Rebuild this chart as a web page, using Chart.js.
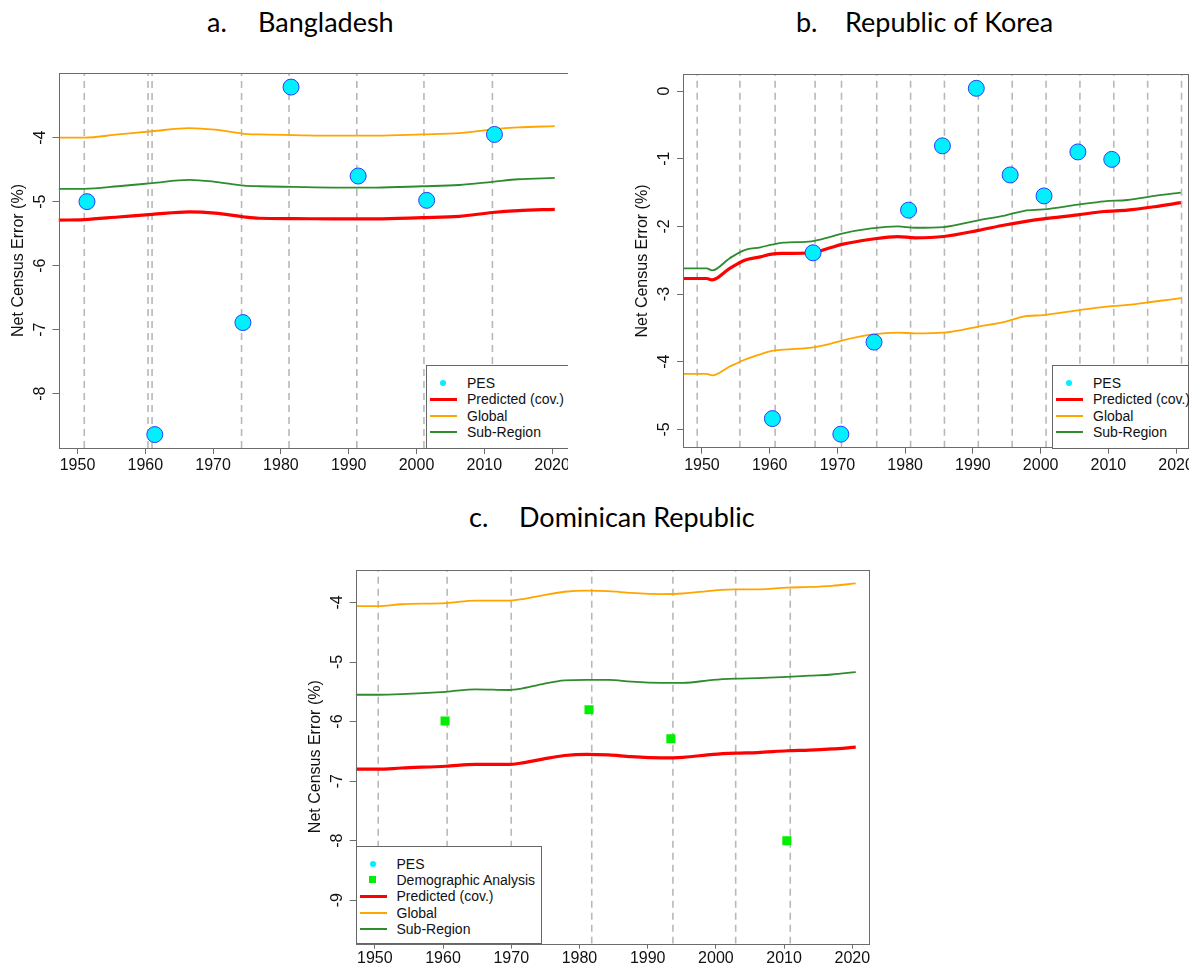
<!DOCTYPE html>
<html><head><meta charset="utf-8">
<script src="https://cdn.jsdelivr.net/npm/chart.js@4/dist/chart.umd.min.js"></script>
<style>
body{margin:0;width:1199px;height:967px;background:#fff;position:relative;overflow:hidden;font-family:"Liberation Sans",Arial,sans-serif}
.crop{position:absolute;overflow:hidden}
.crop canvas{position:absolute;left:0;top:0}
.title{position:absolute;font-family:Lato,"Open Sans",sans-serif;font-size:27px;color:#000;white-space:nowrap;line-height:27px}
.legend{position:absolute;border:1px solid #666;background:#fff;box-sizing:border-box;font-size:14px;color:#111}
.item{position:absolute;left:0;height:16px;width:100%}
.item span{position:absolute;top:0;line-height:16px;white-space:nowrap}
.sym{position:absolute}
</style></head><body>

<div class="title" style="left:207px;top:8px">a.</div><div class="title" style="left:258px;top:8px">Bangladesh</div>
<div class="title" style="left:796px;top:8px">b.</div><div class="title" style="left:845px;top:8px">Republic of Korea</div>
<div class="title" style="left:469px;top:503px">c.</div><div class="title" style="left:519px;top:503px">Dominican Republic</div>

<div class="crop" id="cropA" style="left:0;top:40px;width:568px;height:440px"><canvas id="cA" width="580" height="440"></canvas></div>
<div class="crop" id="cropB" style="left:600px;top:40px;width:589px;height:440px"><canvas id="cB" width="599" height="440"></canvas></div>
<div class="crop" id="cropC" style="left:290px;top:540px;width:590px;height:427px"><canvas id="cC" width="590" height="427"></canvas></div>

<script>
// ---------- shared ----------
const xTicks = [1950, 1960, 1970, 1980, 1990, 2000, 2010, 2020];

// ---------- a. Bangladesh ----------
const bdLineYears = [1947.2, 1951, 1956, 1961, 1966.5, 1970.3, 1974.6, 1976.8, 1982, 1987.7, 1994, 2000.8, 2006.3, 2011.2, 2015, 2020.4];
const bdPredicted = [-5.29, -5.28, -5.24, -5.20, -5.16, -5.18, -5.24, -5.26, -5.265, -5.27, -5.27, -5.25, -5.23, -5.17, -5.14, -5.12];
const bdGlobal    = [-4.00, -4.00, -3.95, -3.90, -3.85, -3.875, -3.94, -3.95, -3.96, -3.97, -3.97, -3.95, -3.93, -3.87, -3.84, -3.82];
const bdSubRegion = [-4.80, -4.80, -4.76, -4.71, -4.66, -4.69, -4.75, -4.76, -4.77, -4.78, -4.78, -4.76, -4.74, -4.69, -4.65, -4.63];
const bdPesYears  = [1951.4, 1961.4, 1974.4, 1981.5, 1991.4, 2001.5, 2011.5];
const bdPesValues = [-5.00, -8.64, -6.89, -3.21, -4.60, -4.98, -3.95];
const bdCensusYears = [1951.0, 1960.4, 1961.0, 1974.2, 1981.2, 1991.2, 2001.1, 2011.2];
const bdYTicks = [-8, -7, -6, -5, -4];

// ---------- b. Republic of Korea ----------
const krLineYears = [1947.2, 1950.7, 1951.5, 1954.1, 1956.3, 1958.6, 1960.3, 1962.0, 1966.2, 1968.8, 1970.5, 1975.0, 1978.9, 1981.5, 1985.7, 1990.8, 1994.7, 1997.6, 2000.4, 2005.5, 2009.4, 2012.8, 2016.8, 2020.7];
const krPredicted = [-2.77, -2.77, -2.79, -2.62, -2.50, -2.45, -2.41, -2.40, -2.39, -2.32, -2.27, -2.19, -2.15, -2.17, -2.15, -2.06, -1.98, -1.93, -1.89, -1.83, -1.78, -1.76, -1.71, -1.65];
const krGlobal    = [-4.18, -4.18, -4.20, -4.07, -3.97, -3.89, -3.84, -3.82, -3.79, -3.74, -3.69, -3.60, -3.57, -3.58, -3.57, -3.48, -3.41, -3.33, -3.31, -3.24, -3.19, -3.16, -3.11, -3.06];
const krSubRegion = [-2.62, -2.62, -2.65, -2.47, -2.35, -2.31, -2.27, -2.24, -2.22, -2.16, -2.11, -2.03, -2.00, -2.02, -2.01, -1.91, -1.84, -1.77, -1.75, -1.68, -1.63, -1.61, -1.55, -1.50];
const krPesYears  = [1960.4, 1966.4, 1970.5, 1975.4, 1980.5, 1985.5, 1990.5, 1995.5, 2000.5, 2005.5, 2010.5];
const krPesValues = [-4.84, -2.39, -5.07, -3.71, -1.76, -0.81, 0.04, -1.24, -1.55, -0.90, -1.01];
const krCensusYears = [1949.3, 1955.6, 1960.8, 1966.7, 1970.6, 1975.8, 1980.8, 1985.8, 1990.8, 1995.8, 2000.8, 2005.8, 2010.8, 2015.8, 2020.8];
const krYTicks = [-5, -4, -3, -2, -1, 0];

// ---------- c. Dominican Republic ----------
const doLineYears = [1947.2, 1950.5, 1953.9, 1960.4, 1964.8, 1969.7, 1971.3, 1974.6, 1977.8, 1981.1, 1984.3, 1987.6, 1992.0, 1995.2, 1999.6, 2002.9, 2006.1, 2010.5, 2013.7, 2017.0, 2020.5];
const doPredicted = [-6.80, -6.80, -6.78, -6.75, -6.72, -6.72, -6.70, -6.63, -6.57, -6.55, -6.56, -6.59, -6.61, -6.60, -6.55, -6.53, -6.52, -6.49, -6.48, -6.46, -6.43];
const doGlobal    = [-4.06, -4.06, -4.03, -4.01, -3.97, -3.97, -3.95, -3.88, -3.82, -3.80, -3.81, -3.84, -3.86, -3.85, -3.80, -3.78, -3.78, -3.75, -3.74, -3.72, -3.68];
const doSubRegion = [-5.55, -5.55, -5.54, -5.50, -5.46, -5.47, -5.45, -5.37, -5.31, -5.30, -5.30, -5.33, -5.35, -5.35, -5.30, -5.28, -5.27, -5.25, -5.23, -5.21, -5.17];
const doDaYears   = [1960.3, 1981.4, 1993.4, 2010.4];
const doDaValues  = [-5.99, -5.80, -6.29, -8.00];
const doCensusYears = [1950.5, 1960.6, 1970.0, 1981.8, 1993.7, 2002.9, 2010.9];
const doYTicks = [-9, -8, -7, -6, -5, -4];

const COL = {pred:'#ff0000', glob:'#ffa500', sub:'#2e8b2e', pes:'#00f0ff', pesBorder:'#2c3cff', da:'#00ee00', grid:'#b8b8b8', frame:'#6c6c6c'};
const FONT = '"Liberation Sans", Arial, sans-serif';

const pts = (xs, ys) => xs.map((x, i) => ({x, y: ys[i]}));

const framePlugin = {
  id: 'frame',
  afterDraw(chart) {
    const {ctx, chartArea: a, scales: {y}} = chart;
    ctx.save();
    ctx.strokeStyle = COL.frame; ctx.lineWidth = 1;
    ctx.strokeRect(Math.round(a.left) + 0.5, Math.round(a.top) + 0.5, Math.round(a.right - a.left), Math.round(a.bottom - a.top));
    ctx.fillStyle = '#111';
    ctx.font = '16px ' + FONT;
    ctx.textAlign = 'center'; ctx.textBaseline = 'middle';
    y.ticks.forEach(t => {
      const py = y.getPixelForValue(t.value);
      ctx.save(); ctx.translate(a.left - 18, py); ctx.rotate(-Math.PI / 2);
      ctx.fillText(String(t.value), 0, 0); ctx.restore();
    });
    ctx.save(); ctx.translate(a.left - 40, (a.top + a.bottom) / 2); ctx.rotate(-Math.PI / 2);
    ctx.fillText('Net Census Error (%)', 0, 0); ctx.restore();
    ctx.restore();
  }
};

function makePanel(p) {
  const vData = [];
  p.census.forEach(v => { vData.push({x: v, y: p.ymin}, {x: v, y: p.ymax}, {x: v, y: null}); });
  const datasets = [];
  if (p.pes) datasets.push({data: pts(p.pes[0], p.pes[1]), showLine: false, pointRadius: 8, pointHoverRadius: 8,
      pointBackgroundColor: COL.pes, pointBorderColor: COL.pesBorder, pointBorderWidth: 1});
  if (p.da) datasets.push({data: pts(p.da[0], p.da[1]), showLine: false, pointStyle: 'rect', pointRadius: 6.4, pointHoverRadius: 6.4,
      pointBackgroundColor: COL.da, pointBorderColor: COL.da, pointBorderWidth: 0});
  datasets.push({data: pts(p.years, p.pred), borderColor: COL.pred, borderWidth: 3.2, pointRadius: 0, cubicInterpolationMode: 'monotone'});
  datasets.push({data: pts(p.years, p.sub), borderColor: COL.sub, borderWidth: 1.8, pointRadius: 0, cubicInterpolationMode: 'monotone'});
  datasets.push({data: pts(p.years, p.glob), borderColor: COL.glob, borderWidth: 1.8, pointRadius: 0, cubicInterpolationMode: 'monotone'});
  datasets.push({data: vData, borderColor: COL.grid, borderWidth: 1.6, borderDash: [7, 5], pointRadius: 0, spanGaps: false, clip: 0});

  const cv = document.getElementById(p.id);
  new Chart(cv, {
    type: 'line',
    data: {datasets},
    options: {
      responsive: false, animation: false, devicePixelRatio: 1,
      events: [],
      layout: {padding: {left: 0, top: p.area.top, right: cv.width - p.area.right, bottom: 0}},
      plugins: {legend: {display: false}, tooltip: {enabled: false}},
      scales: {
        x: {type: 'linear', min: p.xmin, max: p.xmax,
            afterFit(s) { s.height = cv.height - p.area.bottom; },
            afterBuildTicks(s) { s.ticks = xTicks.map(v => ({value: v})); },
            grid: {drawOnChartArea: false, drawTicks: true, tickLength: p.tickLen, tickColor: COL.frame, tickWidth: 1},
            border: {display: false},
            ticks: {font: {family: FONT, size: 16}, color: '#111', padding: p.tickPad, maxRotation: 0, minRotation: 0, autoSkip: false,
                    callback: v => String(v)}},
        y: {type: 'linear', min: p.ymin, max: p.ymax,
            afterFit(s) { s.width = p.area.left; },
            afterBuildTicks(s) { s.ticks = p.yticks.map(v => ({value: v})); },
            grid: {drawOnChartArea: false, drawTicks: true, tickLength: 6, tickColor: COL.frame, tickWidth: 1},
            border: {display: false},
            ticks: {display: false}}
      }
    },
    plugins: [framePlugin]
  });
}

makePanel({id: 'cA', area: {left: 58.5, top: 33, right: 567, bottom: 408}, xmin: 1947.2, xmax: 2022.2, ymin: -8.85, ymax: -2.99,
  yticks: bdYTicks, years: bdLineYears, pred: bdPredicted, glob: bdGlobal, sub: bdSubRegion, pes: [bdPesYears, bdPesValues],
  census: bdCensusYears, tickLen: 6, tickPad: 2});
makePanel({id: 'cB', area: {left: 83, top: 34.3, right: 588.3, bottom: 407.7}, xmin: 1947.2, xmax: 2021.8, ymin: -5.27, ymax: 0.247,
  yticks: krYTicks, years: krLineYears, pred: krPredicted, glob: krGlobal, sub: krSubRegion, pes: [krPesYears, krPesValues],
  census: krCensusYears, tickLen: 6, tickPad: 2});
makePanel({id: 'cC', area: {left: 65.7, top: 29.7, right: 578.7, bottom: 403.7}, xmin: 1947.2, xmax: 2022.4, ymin: -9.73, ymax: -3.45,
  yticks: doYTicks, years: doLineYears, pred: doPredicted, glob: doGlobal, sub: doSubRegion, da: [doDaYears, doDaValues],
  census: doCensusYears, tickLen: 5, tickPad: 0});

// ---------- legends (HTML text) ----------
const legendItems = {
  pes: {label: 'PES', kind: 'dot', color: COL.pes},
  da: {label: 'Demographic Analysis', kind: 'square', color: COL.da},
  pred: {label: 'Predicted (cov.)', kind: 'line', color: COL.pred, w: 3},
  glob: {label: 'Global', kind: 'line', color: COL.glob, w: 2},
  sub: {label: 'Sub-Region', kind: 'line', color: COL.sub, w: 2}
};
function makeLegend(parent, left, top, width, height, keys) {
  const box = document.createElement('div');
  box.className = 'legend';
  Object.assign(box.style, {left: left + 'px', top: top + 'px', width: width + 'px', height: height + 'px'});
  keys.forEach((k, i) => {
    const it = legendItems[k];
    const row = document.createElement('div');
    row.className = 'item';
    row.style.top = (9 + i * 16.4) + 'px';
    const s = document.createElement('div'); s.className = 'sym';
    if (it.kind === 'line') Object.assign(s.style, {left: '3px', width: '27px', top: (8 - it.w / 2) + 'px', height: it.w + 'px', background: it.color});
    if (it.kind === 'dot') Object.assign(s.style, {left: '13px', width: '6px', height: '6px', top: '5px', borderRadius: '50%', background: it.color});
    if (it.kind === 'square') Object.assign(s.style, {left: '12px', width: '7px', height: '7px', top: '4.5px', background: it.color});
    const t = document.createElement('span'); t.textContent = it.label; t.style.left = '40px';
    row.appendChild(s); row.appendChild(t); box.appendChild(row);
  });
  document.getElementById(parent).appendChild(box);
}
// coordinates relative to the crop containers
makeLegend('cropA', 426, 325, 146, 83.5, ['pes', 'pred', 'glob', 'sub']);
makeLegend('cropB', 452, 325, 137, 83.5, ['pes', 'pred', 'glob', 'sub']);
makeLegend('cropC', 65.5, 305.5, 186, 98.5, ['pes', 'da', 'pred', 'glob', 'sub']);
</script>
</body></html>
